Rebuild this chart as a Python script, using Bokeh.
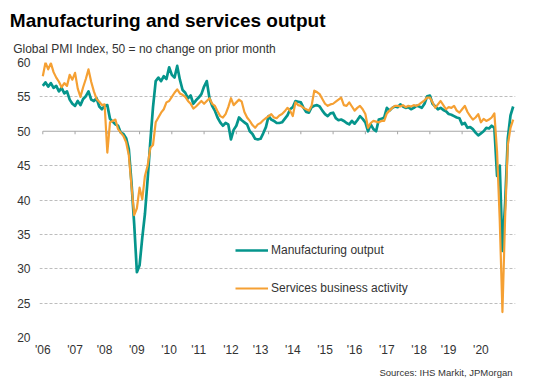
from bokeh.plotting import figure
from bokeh.models import (Range1d, FixedTicker, LinearAxis, Legend, LegendItem,
                          ColumnDataSource, Grid, Title)
from bokeh.embed import file_html
from bokeh.resources import INLINE

# ---------------- data ----------------
year_labels = ["'06", "'07", "'08", "'09", "'10", "'11", "'12", "'13", "'14",
               "'15", "'16", "'17", "'18", "'19", "'20"]
y_ticks = [20, 25, 30, 35, 40, 45, 50, 55, 60]

manufacturing = [
    56.6, 57.1, 56.5, 57.0, 56.3, 56.6, 55.8, 56.3, 55.5, 55.8, 54.6, 54.0,   # 2006
    53.7, 54.4, 53.8, 54.7, 55.1, 55.8, 54.6, 54.4, 54.8, 53.6, 53.2, 53.7,   # 2007
    53.8, 51.8, 51.4, 51.0, 50.8, 49.8, 49.6, 49.0, 47.4, 42.5, 36.5, 29.5,   # 2008
    30.5, 34.5, 38.0, 43.0, 48.5, 53.5, 57.3, 57.8, 57.3, 58.0, 57.6, 59.3,   # 2009
    58.2, 57.8, 59.5, 57.5, 56.0, 55.6, 54.8, 55.2, 54.0, 54.5, 54.9, 55.4,   # 2010
    56.5, 57.3, 54.8, 53.7, 53.0, 52.0, 51.3, 50.8, 51.2, 51.0, 48.8, 50.2,   # 2011
    50.8, 52.0, 51.6, 51.3, 51.0, 50.0, 49.6, 48.9, 48.8, 48.9, 49.7, 50.6,   # 2012
    52.2, 51.7, 51.5, 51.2, 51.2, 51.3, 51.8, 52.3, 53.2, 53.5, 54.4, 54.3,   # 2013
    54.2, 53.4, 52.8, 52.7, 53.5, 53.7, 53.8, 53.6, 53.0, 52.5, 52.2, 52.6,   # 2014
    52.7, 51.9, 51.6, 51.7, 51.5, 51.2, 51.0, 51.5, 51.1, 51.6, 52.2, 51.8,   # 2015
    51.3, 50.0, 51.0, 50.3, 50.0, 51.7, 51.8, 52.0, 53.4, 53.0, 53.4, 53.6,   # 2016
    53.5, 53.9, 53.6, 53.4, 53.5, 53.2, 53.4, 53.7, 53.6, 53.4, 54.0, 55.1,   # 2017
    55.2, 54.0, 53.6, 53.2, 53.4, 53.1, 52.9, 52.5, 52.4, 52.2, 52.0, 51.9,   # 2018
    51.0, 51.2, 50.5, 50.6, 50.3, 49.8, 49.4, 49.7, 50.0, 50.5, 50.4, 50.8,   # 2019
    50.5, 43.5, 45.0, 32.6, 39.5, 49.0, 52.3, 53.6,                           # 2020
]

services = [
    58.0, 60.0, 59.0, 59.9, 58.6, 57.8, 57.2, 56.4, 57.0, 56.6, 58.2, 57.5,   # 2006
    58.5, 56.2, 55.0, 56.4, 57.6, 59.0, 57.2, 55.8, 54.7, 54.3, 53.8, 53.9,   # 2007
    46.9, 51.3, 51.5, 51.7, 50.3, 49.8, 49.3, 48.4, 46.5, 42.0, 37.8, 38.8,   # 2008
    41.8, 40.1, 43.5, 45.0, 47.6, 48.0, 51.3, 52.0, 52.7, 53.2, 54.2, 54.4,   # 2009
    55.0, 55.6, 56.1, 55.5, 55.3, 55.0, 54.4, 54.0, 53.3, 53.6, 54.0, 54.4,   # 2010
    54.0, 54.4, 54.8, 54.0, 53.7, 52.9, 52.2, 52.0, 52.5, 53.5, 54.8, 53.8,   # 2011
    54.2, 54.6, 54.3, 52.8, 52.0, 51.5, 50.9, 50.5, 51.0, 51.2, 51.6, 51.9,   # 2012
    52.2, 52.5, 52.0, 51.9, 52.3, 52.5, 52.9, 53.4, 53.0, 52.2, 54.2, 53.8,   # 2013
    53.7, 53.4, 53.2, 53.0, 53.7, 55.9, 55.7, 55.4, 54.7, 54.0, 53.7, 53.9,   # 2014
    54.0, 54.3, 54.6, 54.9, 53.8, 53.7, 54.2, 53.6, 53.0, 53.4, 53.7, 53.2,   # 2015
    52.5, 50.5, 51.2, 51.5, 51.4, 51.3, 51.5, 51.5, 52.6, 53.0, 53.4, 53.7,   # 2016
    53.7, 53.6, 53.8, 53.5, 53.7, 53.6, 53.8, 53.7, 53.9, 54.2, 54.5, 54.9,   # 2017
    54.9, 54.2, 53.4, 53.9, 54.4, 53.8, 53.2, 53.5, 53.4, 53.7, 53.0, 52.7,   # 2018
    53.2, 53.7, 52.8, 52.2, 51.7, 52.0, 52.5, 51.3, 51.8, 51.5, 51.7, 52.0,   # 2019
    52.6, 47.0, 37.0, 23.7, 37.5, 48.0, 50.5, 51.7,                           # 2020
]

# ---------------- style / layout constants ----------------
TEAL = "#05958C"
ORANGE = "#F5A033"
GRID = "#BDBDBD"
AXIS50 = "#A6A6A6"
TEXT = "#333333"
FONT = "Liberation Sans"
LABEL_STEP = 11.64   # spacing of the year labels (in months) as drawn in the reference

n = len(manufacturing)
months = list(range(n))

W, H = 538, 387
p = figure(width=W, height=H, output_backend="svg", toolbar_location=None,
           x_range=Range1d(-1.23, 175.86), y_range=Range1d(20, 60),
           min_border_left=39, min_border_right=23, min_border_top=62,
           min_border_bottom=50, x_axis_type=None, y_axis_type=None)
p.outline_line_color = None
p.background_fill_color = "white"
p.border_fill_color = "white"
p.title = None

# y axis (labels only)
yaxis = LinearAxis(ticker=FixedTicker(ticks=y_ticks))
yaxis.axis_line_color = None
yaxis.major_tick_line_color = None
yaxis.minor_tick_line_color = None
yaxis.major_tick_out = 0
yaxis.major_label_standoff = 9
yaxis.major_label_text_font = FONT
yaxis.major_label_text_font_size = "12px"
yaxis.major_label_text_color = TEXT
p.add_layout(yaxis, "left")

# x axis (year labels only)
label_pos = [int(round(i * LABEL_STEP)) for i in range(len(year_labels))]
xaxis = LinearAxis(ticker=FixedTicker(ticks=label_pos),
                   major_label_overrides={pos: lab for pos, lab in zip(label_pos, year_labels)})
xaxis.axis_line_color = None
xaxis.major_tick_line_color = None
xaxis.minor_tick_line_color = None
xaxis.major_tick_out = 0
xaxis.major_label_standoff = 5
xaxis.major_label_text_font = FONT
xaxis.major_label_text_font_size = "12px"
xaxis.major_label_text_color = TEXT
p.add_layout(xaxis, "below")

# dashed grid (50 is drawn as a solid axis line)
grid = Grid(dimension=1, ticker=FixedTicker(ticks=[t for t in y_ticks if t != 50]),
            grid_line_color=GRID, grid_line_dash="3 2", grid_line_width=1)
p.add_layout(grid)

# the 50 line with yearly tick marks
p.segment(x0=[0], y0=[50], x1=[n - 0.3], y1=[50], line_color=AXIS50, line_width=1)
year_ticks = [12 * i for i in range(len(year_labels))]
p.segment(x0=year_ticks, y0=[50] * len(year_ticks), x1=year_ticks,
          y1=[49.56] * len(year_ticks), line_color=AXIS50, line_width=1)

src = ColumnDataSource(dict(m=months, man=manufacturing, ser=services))
r1 = p.line("m", "man", source=src, line_color=TEAL, line_width=2.7, line_join="round")
r2 = p.line("m", "ser", source=src, line_color=ORANGE, line_width=2.2, line_join="round")

legend = Legend(items=[LegendItem(label="Manufacturing output", renderers=[r1]),
                       LegendItem(label="Services business activity", renderers=[r2])],
                location=(196, 39), orientation="vertical")
legend.background_fill_alpha = 0
legend.border_line_color = None
legend.padding = 0
legend.margin = 0
legend.spacing = 18
legend.glyph_width = 33
legend.glyph_height = 20
legend.label_height = 20
legend.label_standoff = 3
legend.label_text_font = FONT
legend.label_text_font_size = "12px"
legend.label_text_color = TEXT
p.add_layout(legend, "center")

# titles (above, stacked outward) and source note (below)
p.add_layout(Title(text="Global PMI Index, 50 = no change on prior month", align="left",
                   offset=-26.3, standoff=14, text_font=FONT, text_font_size="12px",
                   text_font_style="normal", text_color=TEXT), "above")
p.add_layout(Title(text="Manufacturing and services output", align="left",
                   offset=-29.7, standoff=3, text_font=FONT, text_font_size="19px",
                   text_font_style="bold", text_color="black"), "above")
p.add_layout(Title(text="Sources: IHS Markit, JPMorgan", align="right",
                   offset=3, standoff=11, text_font=FONT, text_font_size="9.5px",
                   text_font_style="normal", text_color=TEXT), "below")

open("out.html", "w").write(file_html(p, INLINE))
